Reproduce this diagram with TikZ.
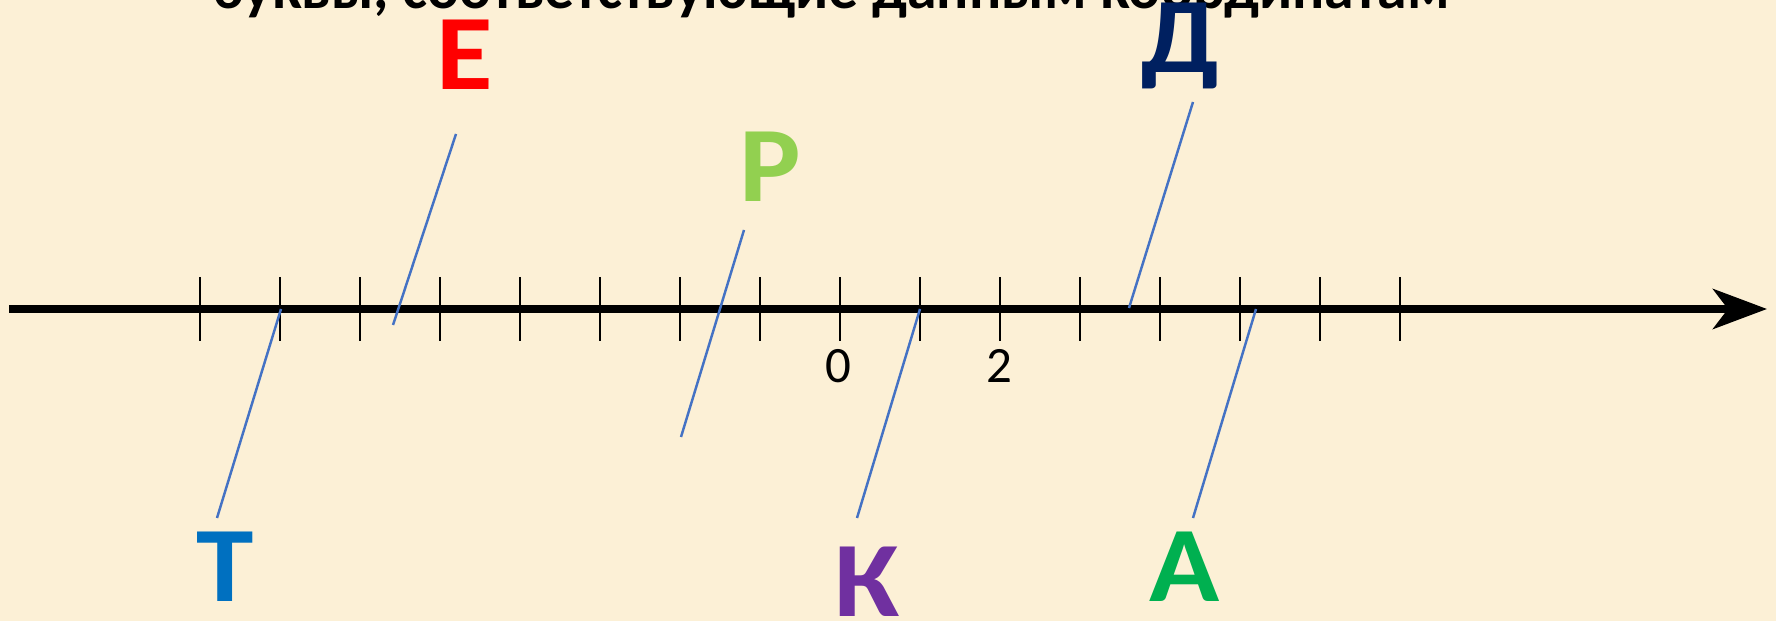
\documentclass[tikz,border=0pt]{standalone}
\usepackage{fontspec}
\setmainfont{Carlito}
\newfontfamily\letterfont[FakeStretch=1.08]{Carlito}
\usepackage{tikz}
\usetikzlibrary{arrows.meta, positioning}
\definecolor{nlbg}{RGB}{252,240,214}
\definecolor{nlblue}{RGB}{68,114,196}
\definecolor{nlred}{RGB}{255,0,0}
\definecolor{nlnavy}{RGB}{0,32,96}
\definecolor{nllime}{RGB}{146,208,80}
\definecolor{nlcyan}{RGB}{0,112,192}
\definecolor{nlpurple}{RGB}{112,48,160}
\definecolor{nlgreen}{RGB}{0,176,80}

\begin{document}
\begin{tikzpicture}[
  x=0.1mm, y=-0.1mm,
  axis/.style={line width=2.2pt, -{Stealth[length=5.4mm, width=4mm, inset=1.5mm]}},
  tick/.style={line width=0.6pt},
  lead/.style={nlblue, line width=0.7pt},
  letter/.style={anchor=base, inner sep=0pt, font=\letterfont\bfseries\fontsize{30.5}{34}\selectfont},
  numlabel/.style={inner sep=0pt, font=\fontsize{14.5}{16}\selectfont},
  headline/.style={anchor=base, inner sep=0pt, font=\bfseries\fontsize{17}{20}\selectfont}
]
  \fill[nlbg] (0,0) rectangle (1776,621);
  \useasboundingbox (0,0) rectangle (1776,621);

  %% Title, cut off by the top edge
  \node[headline] (ttl) at (831,9) {буквы, соответствующие данным координатам};

  %% Number line
  \coordinate (axl) at (9,309);
  \coordinate (axr) at (1767,309);
  \draw[axis] (axl) -- (axr);
  \foreach \k in {-8,...,7}
    \draw[tick] (840+80*\k,277) -- (840+80*\k,341);
  \node[numlabel] (n0) at (838,366) {0};
  \node[numlabel] (n2) at (999,366) {2};

  %% Letters
  \node[letter, nlred]    (le) at (465,90)  {Е};
  \node[letter, nlnavy]   (ld) at (1180,73) {Д};
  \node[letter, nllime]   (lr) at (770,202) {Р};
  \node[letter, nlcyan]   (lt) at (225,602) {Т};
  \node[letter, nlpurple] (lk) at (867,617) {К};
  \node[letter, nlgreen]  (la) at (1185,602) {А};

  %% Leader lines: point on the axis -- free end near the letter
  \coordinate (pe) at (393,325);  \coordinate (qe) at (456,134);
  \coordinate (pr) at (681,437);  \coordinate (qr) at (744,230);
  \coordinate (pd) at (1129,308); \coordinate (qd) at (1193,102);
  \coordinate (pt) at (281,309);  \coordinate (qt) at (217,518);
  \coordinate (pk) at (920,309);  \coordinate (qk) at (857,518);
  \coordinate (pa) at (1256,309); \coordinate (qa) at (1193,518);
  \foreach \m in {e,r,d,t,k,a}
    \draw[lead] (p\m) -- (q\m);
\end{tikzpicture}
\end{document}
